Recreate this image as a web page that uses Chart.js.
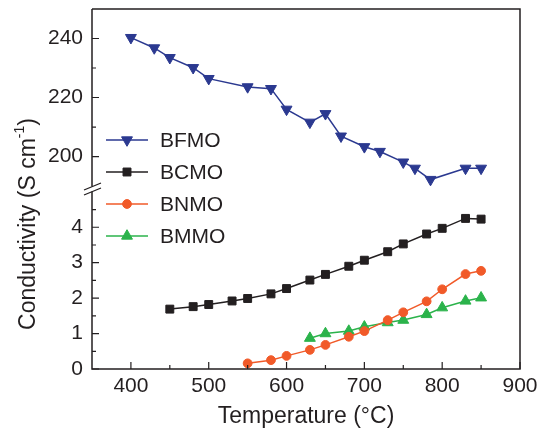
<!DOCTYPE html>
<html>
<head>
<meta charset="utf-8">
<title>Conductivity vs temperature</title>
<script src="https://cdn.jsdelivr.net/npm/chart.js@4/dist/chart.umd.min.js"></script>
<style>
    html, body { margin: 0; padding: 0; background: #ffffff; }
    #wrap { width: 547px; height: 433px; }
</style>
</head>
<body>
<div id="wrap"><canvas id="cond"></canvas></div>
<script>
// --- DATA ---
const bfmoTemp = [400, 430, 450, 480, 500, 550, 580, 600, 630, 650, 670, 700, 720, 750, 765, 785, 830, 850];
const bfmoCond = [240.3, 236.8, 233.5, 230.1, 226.4, 223.6, 223.0, 216.0, 211.6, 214.5, 206.9, 203.3, 201.7, 198.1, 196.0, 192.2, 196.0, 196.0];

const bcmoTemp = [450, 480, 500, 530, 550, 580, 600, 630, 650, 680, 700, 730, 750, 780, 800, 830, 850];
const bcmoCond = [1.69, 1.76, 1.82, 1.92, 1.99, 2.12, 2.27, 2.51, 2.67, 2.90, 3.07, 3.31, 3.53, 3.81, 3.97, 4.25, 4.23];

const bnmoTemp = [550, 580, 600, 630, 650, 680, 700, 730, 750, 780, 800, 830, 850];
const bnmoCond = [0.16, 0.25, 0.37, 0.54, 0.68, 0.91, 1.07, 1.38, 1.60, 1.91, 2.25, 2.68, 2.77];

const bmmoTemp = [630, 650, 680, 700, 730, 750, 780, 800, 830, 850];
const bmmoCond = [0.87, 1.00, 1.07, 1.19, 1.31, 1.38, 1.54, 1.73, 1.92, 2.01];

// tick positions (labelled ones listed separately)
const xTicks = [400, 450, 500, 550, 600, 650, 700, 750, 800, 850, 900];
const xLabels = [400, 500, 600, 700, 800, 900];
const yTopTicks = [200, 210, 220, 230, 240];
const yTopLabels = [200, 220, 240];
const yLowTicks = [0, 0.5, 1, 1.5, 2, 2.5, 3, 3.5, 4, 4.5];
const yLowLabels = [0, 1, 2, 3, 4];

const INK = '#231f20';
const FONT = "'Liberation Sans', Arial, Helvetica, sans-serif";

function pairs(xs, ys) {
    return xs.map((x, i) => ({ x: x, y: ys[i] }));
}

function useTicks(list) {
    return scale => { scale.ticks = list.map(v => ({ value: v })); };
}

function labelIf(list) {
    return v => (list.includes(v) ? String(v) : '');
}

// fixed axis sizes, no label overhang padding
function fitY(s) {
    s.width = 92;
    s.paddingTop = 0;
    s.paddingBottom = 0;
}
function fitX(s) {
    s.height = 64;
    s.paddingLeft = 0;
    s.paddingRight = 0;
}

// --- FRAME, INWARD TICKS, AXIS BREAK ---
const framePlugin = {
    id: 'frame',
    afterDraw(chart) {
        const ctx = chart.ctx;
        const a = chart.chartArea;
        const sx = chart.scales.x, yt = chart.scales.yTop, yl = chart.scales.y;
        const breakY = yt.bottom; // junction of the two y sections
        const b1 = breakY - 2.5, b2 = breakY + 2.5;

        ctx.save();
        ctx.strokeStyle = INK;
        ctx.lineWidth = 1.5;
        ctx.beginPath();
        // top, right, bottom
        ctx.moveTo(a.left, a.top);
        ctx.lineTo(a.right, a.top);
        ctx.lineTo(a.right, a.bottom);
        ctx.lineTo(a.left, a.bottom);
        // left, broken
        ctx.lineTo(a.left, b2);
        ctx.moveTo(a.left, b1);
        ctx.lineTo(a.left, a.top);
        ctx.stroke();

        // break slashes
        ctx.lineWidth = 1.3;
        ctx.beginPath();
        ctx.moveTo(a.left - 8, b1 + 3.5);
        ctx.lineTo(a.left + 9, b1 - 3.5);
        ctx.moveTo(a.left - 8, b2 + 3.5);
        ctx.lineTo(a.left + 9, b2 - 3.5);
        ctx.stroke();

        // inward ticks
        ctx.lineWidth = 1.2;
        ctx.beginPath();
        xTicks.forEach(v => {
            const px = sx.getPixelForValue(v);
            const len = xLabels.includes(v) ? 7 : 4;
            ctx.moveTo(px, a.bottom);
            ctx.lineTo(px, a.bottom - len);
        });
        yTopTicks.forEach(v => {
            const py = yt.getPixelForValue(v);
            const len = yTopLabels.includes(v) ? 7 : 4;
            ctx.moveTo(a.left, py);
            ctx.lineTo(a.left + len, py);
        });
        yLowTicks.forEach(v => {
            const py = yl.getPixelForValue(v);
            const len = yLowLabels.includes(v) ? 7 : 4;
            ctx.moveTo(a.left, py);
            ctx.lineTo(a.left + len, py);
        });
        ctx.stroke();

        // y title with superscript
        ctx.translate(29, 224);
        ctx.rotate(-Math.PI / 2);
        ctx.fillStyle = INK;
        ctx.textBaseline = 'middle';
        const main = 'Conductivity (S cm';
        ctx.font = '14px ' + FONT;
        const supW = ctx.measureText('-1').width;
        ctx.font = '23px ' + FONT;
        const mainW = ctx.measureText(main).width;
        const closeW = ctx.measureText(')').width;
        let x0 = -(mainW + supW + closeW) / 2;
        ctx.textAlign = 'left';
        ctx.fillText(main, x0, 0);
        ctx.fillText(')', x0 + mainW + supW, 0);
        ctx.font = '14px ' + FONT;
        ctx.fillText('-1', x0 + mainW, -9);
        ctx.restore();
    }
};

// --- LEGEND (line through marker) ---
const legendPlugin = {
    id: 'innerLegend',
    afterDraw(chart) {
        const ctx = chart.ctx;
        const a = chart.chartArea;
        const x0 = a.left + 14, len = 42;
        ctx.save();
        chart.data.datasets.forEach((ds, i) => {
            const y = a.top + 131 + i * 32;
            ctx.strokeStyle = ds.borderColor;
            ctx.lineWidth = ds.borderWidth;
            ctx.beginPath();
            ctx.moveTo(x0, y);
            ctx.lineTo(x0 + len, y);
            ctx.stroke();
            ctx.fillStyle = ds.pointBackgroundColor;
            ctx.strokeStyle = ds.pointBorderColor;
            ctx.lineWidth = 1;
            Chart.helpers.drawPoint(ctx, {
                pointStyle: ds.pointStyle,
                rotation: ds.pointRotation || 0,
                radius: ds.pointRadius,
                borderWidth: 1
            }, x0 + len / 2, y);
            ctx.fillStyle = INK;
            ctx.font = '21px ' + FONT;
            ctx.textBaseline = 'middle';
            ctx.textAlign = 'left';
            ctx.fillText(ds.label, x0 + 54, y + 1);
        });
        ctx.restore();
    }
};

function series(label, data, axis, color, style, radius, rotation) {
    return {
        label: label,
        data: data,
        yAxisID: axis,
        borderColor: color,
        borderWidth: 1.5,
        pointStyle: style,
        pointRadius: radius,
        pointRotation: rotation || 0,
        pointBackgroundColor: color,
        pointBorderColor: color,
        pointBorderWidth: 1,
        tension: 0,
        fill: false
    };
}

const tickFont = { family: FONT, size: 21 };

new Chart(document.getElementById('cond'), {
    type: 'line',
    data: {
        datasets: [
            series('BFMO', pairs(bfmoTemp, bfmoCond), 'yTop', '#2b3990', 'triangle', 6.3, 180),
            series('BCMO', pairs(bcmoTemp, bcmoCond), 'y', '#231f20', 'rect', 5.6),
            series('BNMO', pairs(bnmoTemp, bnmoCond), 'y', '#f15a29', 'circle', 4.4),
            series('BMMO', pairs(bmmoTemp, bmmoCond), 'y', '#2bb34b', 'triangle', 6.3)
        ]
    },
    options: {
        responsive: true,
        maintainAspectRatio: false,
        animation: false,
        layout: { padding: { top: 9, right: 27, left: 0, bottom: 0 } },
        plugins: { legend: { display: false }, tooltip: { enabled: false } },
        scales: {
            x: {
                type: 'linear',
                min: 350,
                max: 900,
                afterBuildTicks: useTicks(xTicks),
                afterFit: fitX,
                grid: { display: false, drawTicks: false },
                border: { display: false },
                ticks: { autoSkip: false, maxRotation: 0, padding: 5, color: INK, font: tickFont, callback: labelIf(xLabels) },
                title: { display: true, text: 'Temperature (°C)', color: INK, font: { family: FONT, size: 23 }, padding: { top: 0, bottom: 3 } }
            },
            y: {
                type: 'linear',
                position: 'left',
                stack: 'cond',
                stackWeight: 1,
                min: 0,
                max: 5.08,
                afterBuildTicks: useTicks(yLowTicks),
                afterFit: fitY,
                grid: { display: false, drawTicks: false },
                border: { display: false },
                ticks: { autoSkip: false, padding: 9, color: INK, font: tickFont, callback: labelIf(yLowLabels) }
            },
            yTop: {
                type: 'linear',
                position: 'left',
                stack: 'cond',
                stackWeight: 1,
                min: 189,
                max: 250,
                afterBuildTicks: useTicks(yTopTicks),
                afterFit: fitY,
                grid: { display: false, drawTicks: false },
                border: { display: false },
                ticks: { autoSkip: false, padding: 9, color: INK, font: tickFont, callback: labelIf(yTopLabels) }
            }
        }
    },
    plugins: [framePlugin, legendPlugin]
});
</script>
</body>
</html>
